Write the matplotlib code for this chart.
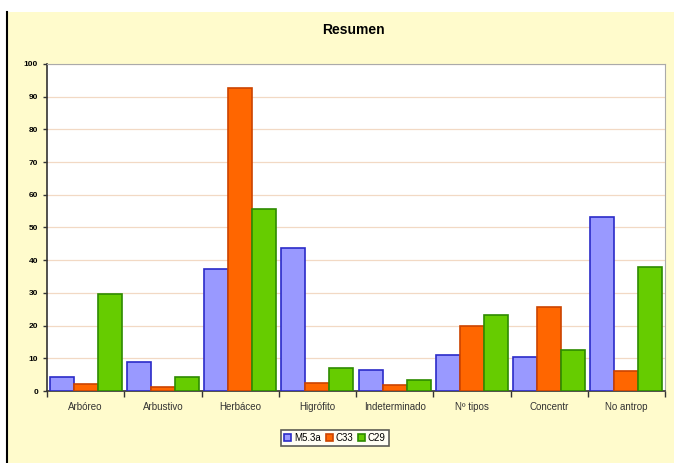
import numpy as np
import matplotlib.pyplot as plt
from matplotlib.patches import Rectangle
from matplotlib.lines import Line2D

plt.rcParams['font.family'] = ['Liberation Sans', 'DejaVu Sans']

categorias = ["Arbóreo", "Arbustivo", "Herbáceo", "Higrófito", "Indeterminado",
              "Nº tipos", "Concentr", "No antrop"]
m53a = [4.3, 8.9, 37.3, 43.7, 6.4, 11.0, 10.4, 53.2]
c33 = [2.1, 1.2, 92.7, 2.4, 1.8, 19.9, 25.7, 6.1]
c29 = [29.7, 4.3, 55.7, 7.0, 3.4, 23.2, 12.5, 37.9]
series = [("M5.3a", m53a, "#9999FF", "#2B2BC8"),
          ("C33", c33, "#FF6600", "#CC4400"),
          ("C29", c29, "#66CC00", "#2E8B00")]

fig = plt.figure(figsize=(6.74, 4.63), dpi=100)
fig.patch.set_facecolor("white")
fig.patches.append(Rectangle((7/674, 0), 1 - 7/674, 451/463, transform=fig.transFigure,
                             facecolor="#FFFBCC", edgecolor="none", zorder=-10))
fig.lines.append(Line2D([7/674, 7/674], [0, 451/463], transform=fig.transFigure,
                        color="black", lw=1.5, zorder=-5))

ax = fig.add_axes([47/674, 72/463, 618/674, 327/463])
ax.set_facecolor("white")
x = np.arange(len(categorias))
w = 0.31
for i, (nombre, vals, fc, ec) in enumerate(series):
    ax.bar(x + (i - 1) * w, vals, w, color=fc, edgecolor=ec, linewidth=1.2,
           label=nombre, zorder=3)

ax.set_xlim(-0.5, len(categorias) - 0.5)
ax.set_ylim(0, 100)
ax.set_yticks(range(0, 101, 10))
ax.set_xticks(x)
ax.set_xticklabels(categorias, fontsize=7, color="#333333")
ax.set_xticks(np.arange(-0.5, len(categorias), 1), minor=True)
ax.tick_params(axis="x", which="major", length=0, pad=8)
ax.tick_params(axis="x", which="minor", length=4, width=1, color="#333333")
ax.tick_params(axis="y", length=3, width=1, labelsize=6, color="#333333")
for lbl in ax.get_yticklabels():
    lbl.set_fontweight("bold")
ax.yaxis.grid(True, color="#F2D9C4", lw=0.9, zorder=0)
ax.set_axisbelow(True)
for s in ["left", "bottom"]:
    ax.spines[s].set_color("#333333")
    ax.spines[s].set_linewidth(1.2)
for s in ["top", "right"]:
    ax.spines[s].set_color("#AAAAAA")

fig.text(353/674, 433/463, "Resumen", ha="center", va="center",
         fontsize=10, fontweight="bold")

leg = fig.legend(loc="center", bbox_to_anchor=(335/674, 25/463), ncol=3,
                 fontsize=7, frameon=True, fancybox=False, handlelength=0.7,
                 handleheight=0.7, handletextpad=0.3, columnspacing=0.5,
                 borderpad=0.3, edgecolor="#333333")
leg.get_frame().set_facecolor("white")
leg.get_frame().set_linewidth(1.2)

fig.savefig("out.png", dpi=100)
